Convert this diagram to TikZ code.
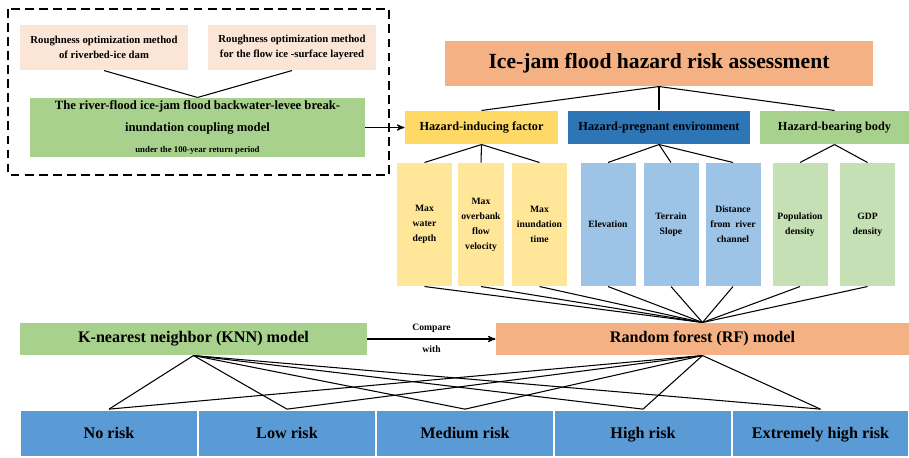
\documentclass[tikz,border=0pt]{standalone}
\usepackage{fontspec}
\setmainfont{Liberation Serif}
\usetikzlibrary{shapes, arrows, positioning}

\definecolor{peach}{HTML}{FBE5D6}
\definecolor{leaf}{HTML}{A9D18E}
\definecolor{paleleaf}{HTML}{C5E0B4}
\definecolor{salmon}{HTML}{F4B183}
\definecolor{gold}{HTML}{FFD966}
\definecolor{palegold}{HTML}{FFE699}
\definecolor{deepblue}{HTML}{2E75B6}
\definecolor{paleblue}{HTML}{9DC3E6}
\definecolor{riskblue}{HTML}{5B9BD5}

\begin{document}
\begin{tikzpicture}[x=0.02cm,y=-0.02cm,>=stealth',line width=0.6pt,
    box/.style={rectangle,inner sep=1pt,align=center,font=\bfseries},
    method node/.style={box,fill=peach,minimum width=3.36cm,minimum height=0.9cm,
        font=\bfseries\fontsize{6.1}{8.5}\selectfont},
    head node/.style={box,fill=#1,minimum height=0.66cm,
        font=\bfseries\fontsize{7}{8}\selectfont},
    col node/.style={box,fill=#1,minimum width=1.1cm,minimum height=2.46cm,
        font=\bfseries\fontsize{5.5}{8.5}\selectfont},
    model node/.style={box,fill=#1,minimum height=0.64cm,
        font=\bfseries\fontsize{9.2}{10}\selectfont},
    risk node/.style={box,fill=riskblue,draw=white,line width=1pt,minimum width=3.56cm,
        minimum height=0.94cm,text height=1.6ex,text depth=0.45ex,
        font=\bfseries\fontsize{9.2}{10}\selectfont}]

  \useasboundingbox (0,0) rectangle (909,457);

  % coupling model block
  \draw[dash pattern=on 5pt off 3pt,line width=0.9pt] (8,9) rectangle (389,175);
  \node[method node] (rough1) at (104,47.5) {Roughness optimization method\\of riverbed-ice dam};
  \node[method node] (rough2) at (292,47.5) {Roughness optimization method\\for the flow ice -surface layered};
  \node[box,fill=leaf,minimum width=6.7cm,minimum height=1.18cm] (couple) at (197.5,127.5)
    {\fontsize{7.2}{12}\selectfont The river-flood ice-jam flood backwater-levee break-\\
     \fontsize{7.2}{12}\selectfont inundation coupling model\\
     \fontsize{5}{7}\selectfont under the 100-year return period};

  % assessment tree
  \node[box,fill=salmon,minimum width=8.56cm,minimum height=0.9cm,
        font=\bfseries\fontsize{12.3}{14}\selectfont] (assess) at (659,63.5)
    {Ice-jam flood hazard risk assessment};
  \node[head node=gold,minimum width=3.06cm] (inducing) at (481.5,127.5) {Hazard-inducing factor};
  \node[head node=deepblue,minimum width=3.64cm] (pregnant) at (659,127.5) {Hazard-pregnant environment};
  \node[head node=leaf,minimum width=2.98cm] (bearing) at (834.5,127.5) {Hazard-bearing body};

  \node[col node=palegold] (depth) at (424.5,224.5) {Max\\water\\depth};
  \node[col node=palegold,minimum width=0.92cm] (velocity) at (481,224.5) {Max\\overbank\\flow\\velocity};
  \node[col node=palegold] (duration) at (539.5,224.5) {Max\\inundation\\time};
  \node[col node=paleblue] (elev) at (608,224.5) {Elevation};
  \node[col node=paleblue] (slope) at (671,224.5) {Terrain\\Slope};
  \node[col node=paleblue] (dist) at (733,224.5) {Distance\\from~~river\\channel};
  \node[col node=paleleaf] (popul) at (800,224.5) {Population\\density};
  \node[col node=paleleaf] (gdp) at (867.5,224.5) {GDP\\density};

  % models
  \node[model node=leaf,minimum width=6.94cm] (knn) at (193.5,339) {K-nearest neighbor (KNN) model};
  \node[model node=salmon,minimum width=8.26cm] (rf) at (702.5,339) {Random forest (RF) model};

  % risk levels
  \node[risk node] (r1) at (109,433.5) {No risk};
  \node[risk node] (r2) at (287,433.5) {Low risk};
  \node[risk node] (r3) at (465,433.5) {Medium risk};
  \node[risk node] (r4) at (643,433.5) {High risk};
  \node[risk node,minimum width=3.54cm] (r5) at (820.5,433.5) {Extremely high risk};

  \path
   (rough1.south) edge (couple.north)
   (rough2.south) edge (couple.north)
   (assess.south) edge (inducing.north)
                  edge (pregnant.north)
                  edge (bearing.north)
   (inducing.south) edge (depth.north)
                    edge (velocity.north)
                    edge (duration.north)
   (pregnant.south) edge (elev.north)
                    edge (slope.north)
                    edge (dist.north)
   (bearing.south) edge (popul.north)
                   edge (gdp.north);

  \foreach \n in {depth,velocity,duration,elev,slope,dist,popul,gdp}
    \draw (\n.south) -- (rf.north);

  \foreach \n in {r1,r2,r3,r4,r5} {
    \draw (knn.south) -- (\n.north);
    \draw (rf.south) -- (\n.north);
  }

  \draw[->] (couple.east) -- (inducing.west);
  \draw[->] (knn.east) -- node[above,font=\bfseries\fontsize{5.5}{7}\selectfont] {Compare}
    node[below,font=\bfseries\fontsize{5.5}{7}\selectfont] {with} (rf.west);
\end{tikzpicture}
\end{document}
